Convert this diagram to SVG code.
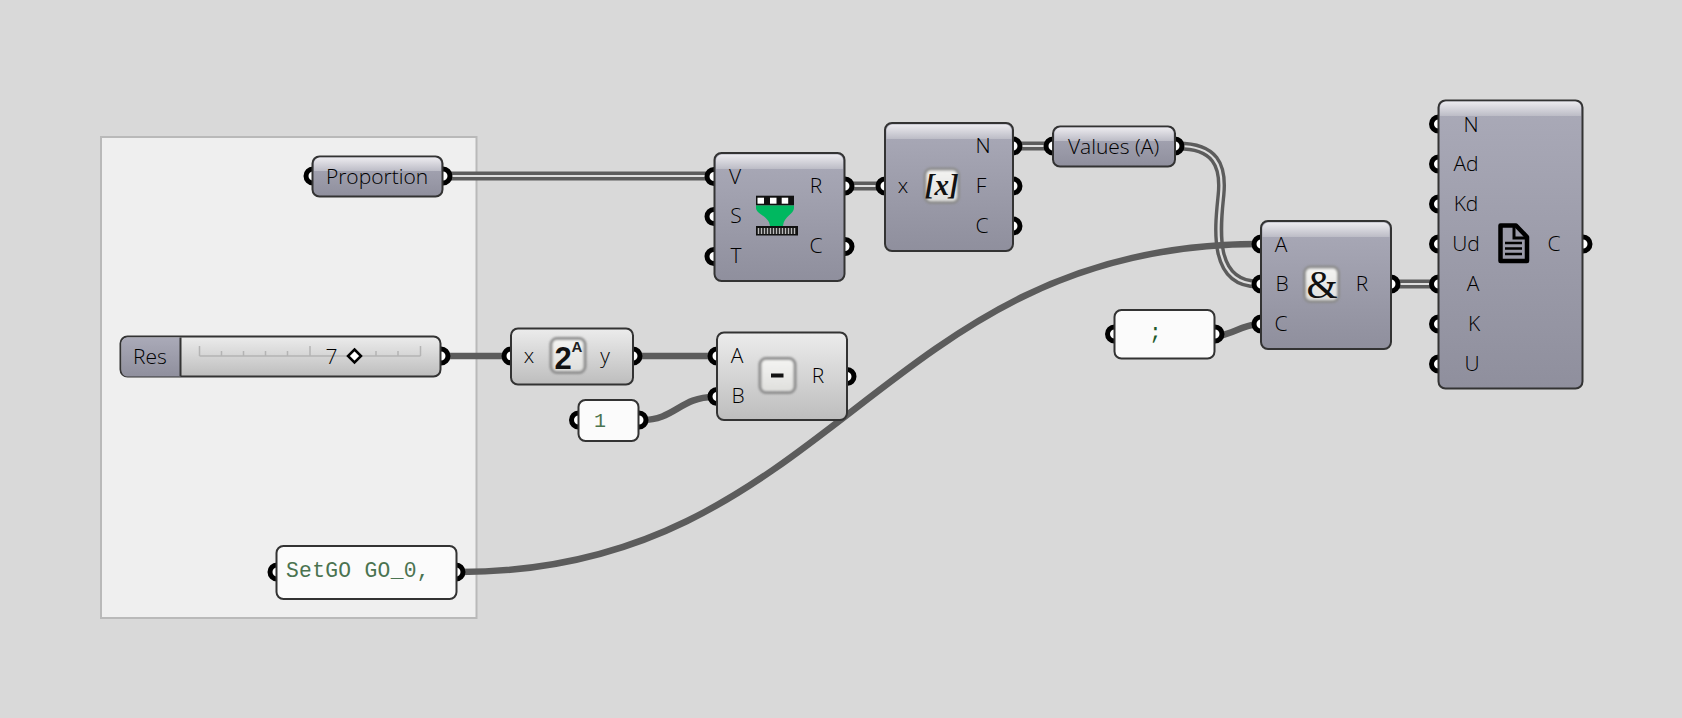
<svg xmlns="http://www.w3.org/2000/svg" width="1682" height="718" viewBox="0 0 1682 718">
<style>
.t{font-family:"Open Sans","Noto Sans",sans-serif;font-size:21px;font-weight:300;fill:#000;text-anchor:middle}
.m{font-family:"Liberation Mono",monospace;font-size:21.300px;letter-spacing:.3px;fill:#4a7350}
.p{fill:#fff;stroke:#000;stroke-width:5}
.n{stroke:#333;stroke-width:2}
.w1{fill:none;stroke:#5c5c5c;stroke-width:6.500}
.w2o{fill:none;stroke:#5c5c5c;stroke-width:9}
.w2i{fill:none;stroke:#dedede;stroke-width:2.200}
.ib{fill:url(#ig);stroke:#8c8c8c;stroke-width:3;filter:url(#sh)}
.tk{stroke:#b4b4b4;stroke-width:1.500;fill:none}
</style>
<defs>
<linearGradient id="dk" x1="0" y1="0" x2="0" y2="1"><stop offset="0" stop-color="#aaaab8"/><stop offset="1" stop-color="#8f8f9d"/></linearGradient>
<linearGradient id="lt" x1="0" y1="0" x2="0" y2="1"><stop offset="0" stop-color="#ececec"/><stop offset="1" stop-color="#bdbdbd"/></linearGradient>
<linearGradient id="hl" x1="0" y1="0" x2="0" y2="1"><stop offset="0" stop-color="#ecebef"/><stop offset="1" stop-color="#bcbcc6"/></linearGradient>
<linearGradient id="ig" x1="0" y1="0" x2="0" y2="1"><stop offset="0" stop-color="#f5f5f3"/><stop offset="1" stop-color="#dededc"/></linearGradient>
<filter id="sh" x="-20%" y="-20%" width="140%" height="140%"><feGaussianBlur stdDeviation="0.800"/></filter>
</defs>
<rect width="1682" height="718" fill="#d9d9d9"/>
<rect id="group" x="101" y="137" width="375.500" height="481" fill="#efefef" stroke="#b9b9b9" stroke-width="2"/>

<g id="connectors">
<path class="w2o" d="M446 176H710"/><path class="w2i" d="M446 176H710"/>
<path class="w2o" d="M848 186H881"/><path class="w2i" d="M848 186H881"/>
<path class="w2o" d="M1016 146H1049"/><path class="w2i" d="M1016 146H1049"/>
<path class="w2o" d="M1394 284H1434"/><path class="w2i" d="M1394 284H1434"/>
<path class="w1" d="M444 356H507"/>
<path class="w1" d="M636 356H713"/>
<path class="w1" d="M642 420C675 420 680 397 714 397"/>
<path class="w1" d="M1218 336C1235 333 1240 326 1258 324"/>
<path class="w2o" d="M1178 146C1215 146 1224 165 1221 195C1218 225 1210 284 1258 284"/><path class="w2i" d="M1178 146C1215 146 1224 165 1221 195C1218 225 1210 284 1258 284"/>
<path class="w1" d="M460 572C830 572 880 244 1258 244"/>
</g>

<g id="proportion">
<circle class="p" cx="313" cy="176" r="7"/><circle class="p" cx="443" cy="176" r="7"/>
<rect class="n" x="312.500" y="156.500" width="130" height="40" rx="7" fill="url(#dk)"/>
<path d="M314 164a6 6 0 0 1 6-6.500h115a6 6 0 0 1 6 6.500v7H314z" fill="url(#hl)"/>
<text class="t" x="377" y="183.500">Proportion</text>
</g>

<g id="slider">
<circle class="p" cx="441" cy="356" r="7"/>
<rect class="n" x="120.500" y="336.500" width="320" height="40" rx="7" fill="url(#lt)"/>
<path d="M180.500 337.500H127a6 6 0 0 0-5.500 6.500v26a6 6 0 0 0 5.500 6.500h53.500z" fill="url(#dk)"/>
<path d="M180.500 337.500V376" stroke="#333" stroke-width="2"/>
<path class="tk" d="M199.500 356H420.500M199.500 346V356M221.500 351V356M243.500 351V356M265.500 351V356M287.500 351V356M310 346V356M376 351V356M398 351V356M420.500 346V356"/>
<text class="t" x="331.500" y="363.500">7</text>
<path d="M354.500 349.500L361 356L354.500 362.500L348 356Z" fill="#fff" stroke="#000" stroke-width="2.500"/>
<text class="t" x="150" y="363.500">Res</text>
</g>

<g id="setgo">
<circle class="p" cx="277" cy="572" r="7"/><circle class="p" cx="456" cy="572" r="7"/>
<rect class="n" x="276.500" y="546" width="180" height="53" rx="7" fill="#fbfbfb"/>
<text class="m" x="286" y="577">SetGO GO_0,</text>
</g>

<g id="sort">
<circle class="p" cx="714" cy="176.500" r="7"/><circle class="p" cx="714" cy="216.500" r="7"/><circle class="p" cx="714" cy="256.500" r="7"/>
<circle class="p" cx="845" cy="186" r="7"/><circle class="p" cx="845" cy="246.500" r="7"/>
<rect class="n" x="714.500" y="153" width="130" height="128" rx="7" fill="url(#dk)"/>
<path d="M716 161a6 6 0 0 1 6-6.500h115a6 6 0 0 1 6 6.500v8H716z" fill="url(#hl)"/>
<text class="t" x="735" y="183.500">V</text><text class="t" x="736" y="223">S</text><text class="t" x="736" y="263">T</text>
<text class="t" x="816" y="193">R</text><text class="t" x="816" y="253">C</text>
<rect x="756" y="195.700" width="38" height="9.800" fill="#111"/>
<rect x="757.500" y="197.700" width="6.500" height="6" fill="#fff"/><rect x="770" y="197.700" width="6.500" height="6" fill="#fff"/><rect x="781.700" y="197.700" width="6.500" height="6" fill="#fff"/>
<path d="M756 205.500H794V208C794 214 784 216 783 226H770C769 216 756 214 756 208Z" fill="#00b860"/>
<rect x="756" y="226" width="42" height="9.500" fill="#111"/>
<path d="M758.500 228V234M761.500 228V234M764.500 228V234M767.500 228V234M770.500 228V234M773.500 228V234M776.500 228V234M779.500 228V234M782.500 228V234M785.500 228V234M788.500 228V234M791.500 228V234M794.500 228V234" stroke="#bbb" stroke-width="1.500"/>
</g>

<g id="expression">
<circle class="p" cx="885" cy="186" r="7"/><circle class="p" cx="1013" cy="146" r="7"/><circle class="p" cx="1013" cy="186" r="7"/><circle class="p" cx="1013" cy="226" r="7"/>
<rect class="n" x="885" y="123" width="128" height="128" rx="7" fill="url(#dk)"/>
<path d="M886.500 131a6 6 0 0 1 6-6.500h113a6 6 0 0 1 6 6.500v8H886.500z" fill="url(#hl)"/>
<text class="t" x="903" y="193">x</text>
<text class="t" x="983" y="153">N</text><text class="t" x="981" y="193">F</text><text class="t" x="982" y="233">C</text>
<rect class="ib" x="925" y="169" width="33.500" height="33.500" rx="6"/>
<text x="941.700" y="195" font-family="Liberation Serif,serif" font-size="29" font-weight="bold" font-style="italic" text-anchor="middle" fill="#111">[x]</text>
</g>

<g id="values">
<circle class="p" cx="1053" cy="146" r="7"/><circle class="p" cx="1175" cy="146" r="7"/>
<rect class="n" x="1053" y="126.500" width="122" height="40" rx="7" fill="url(#dk)"/>
<path d="M1054.500 134a6 6 0 0 1 6-6.500h107a6 6 0 0 1 6 6.500v7H1054.500z" fill="url(#hl)"/>
<text class="t" x="1113.500" y="153.500">Values (A)</text>
</g>

<g id="pow">
<circle class="p" cx="511" cy="356" r="7"/><circle class="p" cx="633" cy="356" r="7"/>
<rect class="n" x="511" y="328.500" width="122" height="56" rx="7" fill="url(#lt)"/>
<text class="t" x="529" y="363">x</text><text class="t" x="605" y="363">y</text>
<rect class="ib" x="551" y="338.500" width="34" height="34" rx="6"/>
<text x="563" y="369" font-family="Liberation Sans,sans-serif" font-size="31" font-weight="bold" text-anchor="middle" fill="#111">2</text>
<text x="577" y="352" font-family="Liberation Sans,sans-serif" font-size="15" font-weight="bold" text-anchor="middle" fill="#222">A</text>
</g>

<g id="minus">
<circle class="p" cx="717" cy="356" r="7"/><circle class="p" cx="717" cy="396.500" r="7"/><circle class="p" cx="847" cy="376.500" r="7"/>
<rect class="n" x="717" y="332.500" width="130" height="87.500" rx="7" fill="url(#lt)"/>
<text class="t" x="737" y="363">A</text><text class="t" x="738" y="403">B</text><text class="t" x="818" y="383">R</text>
<rect class="ib" x="760" y="358.500" width="35" height="34" rx="6"/>
<rect x="771" y="373.500" width="12.500" height="4" fill="#111"/>
</g>

<g id="one">
<circle class="p" cx="578.500" cy="420" r="7"/><circle class="p" cx="639" cy="420" r="7"/>
<rect class="n" x="578.500" y="400" width="60" height="41" rx="7" fill="#fbfbfb"/>
<text class="m" x="594" y="426.500" style="font-size:20px">1</text>
</g>

<g id="concat">
<circle class="p" cx="1261" cy="244" r="7"/><circle class="p" cx="1261" cy="284" r="7"/><circle class="p" cx="1261" cy="324" r="7"/><circle class="p" cx="1391" cy="284" r="7"/>
<rect class="n" x="1261" y="221" width="130" height="128" rx="7" fill="url(#dk)"/>
<path d="M1262.500 229a6 6 0 0 1 6-6.500h115a6 6 0 0 1 6 6.500v8H1262.500z" fill="url(#hl)"/>
<text class="t" x="1281" y="252">A</text><text class="t" x="1282" y="291">B</text><text class="t" x="1281" y="331">C</text><text class="t" x="1362" y="291">R</text>
<rect class="ib" x="1304.500" y="267" width="34" height="34.500" rx="6"/>
<text x="1322" y="298" font-family="Liberation Serif,serif" font-size="40" text-anchor="middle" fill="#111">&amp;</text>
</g>

<g id="semicolon">
<circle class="p" cx="1114.500" cy="334" r="7"/><circle class="p" cx="1215" cy="334" r="7"/>
<rect class="n" x="1114.500" y="310" width="100" height="48.500" rx="7" fill="#fbfbfb"/>
<text class="m" x="1149" y="339" style="fill:#1f5a2a">;</text>
</g>

<g id="doc">
<circle class="p" cx="1438.500" cy="124" r="7"/><circle class="p" cx="1438.500" cy="164" r="7"/><circle class="p" cx="1438.500" cy="204" r="7"/><circle class="p" cx="1438.500" cy="244" r="7"/><circle class="p" cx="1438.500" cy="284" r="7"/><circle class="p" cx="1438.500" cy="324" r="7"/><circle class="p" cx="1438.500" cy="364" r="7"/><circle class="p" cx="1583" cy="244" r="7"/>
<rect class="n" x="1438.500" y="100.500" width="144" height="288" rx="7" fill="url(#dk)"/>
<path d="M1440 108a6 6 0 0 1 6-6.500h129a6 6 0 0 1 6 6.500v8H1440z" fill="url(#hl)"/>
<text class="t" x="1471" y="132">N</text><text class="t" x="1466" y="171">Ad</text><text class="t" x="1466" y="211">Kd</text><text class="t" x="1466" y="251">Ud</text><text class="t" x="1473" y="291">A</text><text class="t" x="1474" y="331">K</text><text class="t" x="1472" y="371">U</text><text class="t" x="1554" y="251">C</text>
<path d="M1500.500 225.500H1516L1527 237V261H1500.500Z" fill="#9a9aa8" stroke="#000" stroke-width="4.500" stroke-linejoin="round"/>
<path d="M1514 226V238H1527" fill="none" stroke="#000" stroke-width="3"/>
<path d="M1505 243H1522M1505 248.500H1522M1505 254H1522" stroke="#000" stroke-width="2.500"/>
</g>
</svg>
